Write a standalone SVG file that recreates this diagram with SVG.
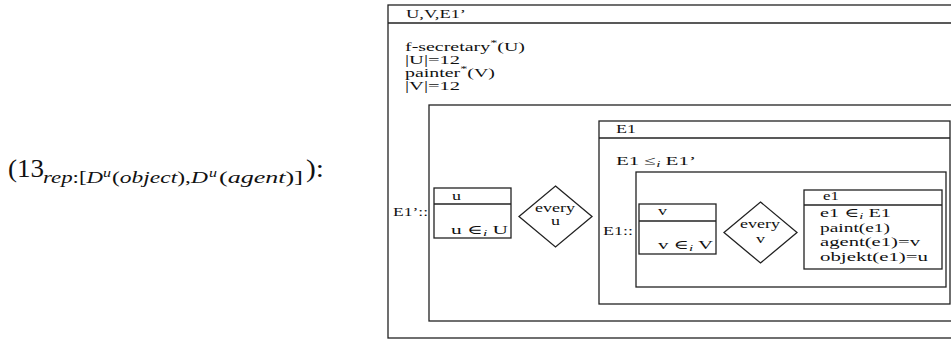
<svg xmlns="http://www.w3.org/2000/svg" width="951" height="339" viewBox="0 0 951 339">
<style>
  .box { fill: none; stroke: #222; stroke-width: 1.3; }
  .t { font-family: "Liberation Serif", "DejaVu Serif", serif; font-size: 12.5px; fill: #111; }
  .m { font-family: "Liberation Serif", "DejaVu Serif", serif; fill: #111; }
  .it { font-style: italic; }
</style>
<rect width="951" height="339" fill="#fff"/>

<g id="label">
  <text class="m" x="8" y="177" font-size="25" textLength="36" lengthAdjust="spacingAndGlyphs">(13</text>
  <text class="m it" x="43" y="183" font-size="17" textLength="60" lengthAdjust="spacingAndGlyphs">rep<tspan font-style="normal">:[</tspan>D</text>
  <text class="m it" x="103" y="177" font-size="12" textLength="8" lengthAdjust="spacingAndGlyphs">u</text>
  <text class="m it" x="112" y="183" font-size="17" textLength="96" lengthAdjust="spacingAndGlyphs"><tspan font-style="normal">(</tspan>object<tspan font-style="normal">),</tspan>D</text>
  <text class="m it" x="209" y="177" font-size="12" textLength="8" lengthAdjust="spacingAndGlyphs">u</text>
  <text class="m it" x="219" y="183" font-size="17" textLength="84" lengthAdjust="spacingAndGlyphs"><tspan font-style="normal">(</tspan>agent<tspan font-style="normal">)]</tspan></text>
  <text class="m" x="306" y="177" font-size="25" textLength="18" lengthAdjust="spacingAndGlyphs">):</text>
</g>

<g id="drs-outer">
  <rect class="box" x="388" y="5" width="580" height="333"/>
  <line class="box" x1="388" y1="23" x2="968" y2="23"/>
  <text class="t" x="406" y="18" textLength="60" lengthAdjust="spacingAndGlyphs">U,V,E1’</text>
  <text class="t" x="405" y="51" textLength="120" lengthAdjust="spacingAndGlyphs">f-secretary<tspan font-size="9" dy="-5">*</tspan><tspan dy="5">(U)</tspan></text>
  <text class="t" x="405" y="64" textLength="55" lengthAdjust="spacingAndGlyphs">|U|=12</text>
  <text class="t" x="405" y="77" textLength="90" lengthAdjust="spacingAndGlyphs">painter<tspan font-size="9" dy="-5">*</tspan><tspan dy="5">(V)</tspan></text>
  <text class="t" x="405" y="90" textLength="55" lengthAdjust="spacingAndGlyphs">|V|=12</text>
</g>

<g id="e1prime-box">
  <text class="t" x="393" y="216" textLength="35" lengthAdjust="spacingAndGlyphs">E1’::</text>
  <rect class="box" x="429" y="105" width="540" height="216"/>
</g>

<g id="u-box">
  <rect class="box" x="434" y="188" width="77" height="50"/>
  <line class="box" x1="434" y1="204" x2="511" y2="204"/>
  <text class="t" x="452" y="200" textLength="9" lengthAdjust="spacingAndGlyphs">u</text>
  <text class="t" x="451" y="234" textLength="57" lengthAdjust="spacingAndGlyphs">u ∈<tspan class="it" font-size="9" dy="2">i</tspan><tspan dy="-2"> U</tspan></text>
</g>

<g id="every-u">
  <polygon class="box" points="555.5,186 592,216.5 555.5,247 519,216.5"/>
  <text class="t" x="535" y="212" textLength="40" lengthAdjust="spacingAndGlyphs">every</text>
  <text class="t" x="551" y="225" textLength="9" lengthAdjust="spacingAndGlyphs">u</text>
</g>

<g id="e1-box">
  <rect class="box" x="599" y="121" width="351" height="183"/>
  <line class="box" x1="599" y1="138" x2="950" y2="138"/>
  <text class="t" x="616" y="133" textLength="20" lengthAdjust="spacingAndGlyphs">E1</text>
  <text class="t" x="616" y="165" textLength="80" lengthAdjust="spacingAndGlyphs">E1 ≤<tspan class="it" font-size="9" dy="2">i</tspan><tspan dy="-2"> E1’</tspan></text>
  <text class="t" x="603" y="235" textLength="30" lengthAdjust="spacingAndGlyphs">E1::</text>
</g>

<g id="e1-inner">
  <rect class="box" x="636" y="172" width="310" height="115"/>
</g>

<g id="v-box">
  <rect class="box" x="639" y="204" width="77" height="50"/>
  <line class="box" x1="639" y1="221" x2="716" y2="221"/>
  <text class="t" x="658" y="215" textLength="9" lengthAdjust="spacingAndGlyphs">v</text>
  <text class="t" x="658" y="249" textLength="55" lengthAdjust="spacingAndGlyphs">v ∈<tspan class="it" font-size="9" dy="2">i</tspan><tspan dy="-2"> V</tspan></text>
</g>

<g id="every-v">
  <polygon class="box" points="760.5,202 797,232.5 760.5,263 724,232.5"/>
  <text class="t" x="740" y="228" textLength="40" lengthAdjust="spacingAndGlyphs">every</text>
  <text class="t" x="756" y="243" textLength="9" lengthAdjust="spacingAndGlyphs">v</text>
</g>

<g id="e1-cond">
  <rect class="box" x="804" y="190" width="138" height="79"/>
  <line class="box" x1="804" y1="205" x2="942" y2="205"/>
  <text class="t" x="823" y="200" textLength="16" lengthAdjust="spacingAndGlyphs">e1</text>
  <text class="t" x="820" y="217" textLength="71" lengthAdjust="spacingAndGlyphs">e1 ∈<tspan class="it" font-size="9" dy="2">i</tspan><tspan dy="-2"> E1</tspan></text>
  <text class="t" x="820" y="231.5" textLength="70" lengthAdjust="spacingAndGlyphs">paint(e1)</text>
  <text class="t" x="820" y="246" textLength="100" lengthAdjust="spacingAndGlyphs">agent(e1)=v</text>
  <text class="t" x="820" y="261" textLength="108" lengthAdjust="spacingAndGlyphs">objekt(e1)=u</text>
</g>

<g id="connectors"></g>
</svg>
